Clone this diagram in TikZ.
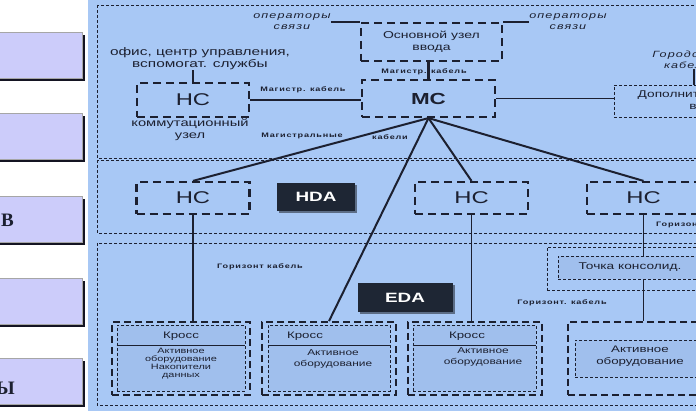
\documentclass[tikz,border=0pt]{standalone}
\usepackage{fontspec}
\setmainfont{Liberation Sans}[FakeStretch=1.4]
\newfontfamily\wirefont{Liberation Sans}[FakeStretch=1.4,LetterSpace=12]
\newfontfamily\menufont{Liberation Serif}
\usetikzlibrary{positioning,shadows}
\definecolor{nwBlue} {RGB}{168,200,245}
\definecolor{nwBlueD}{RGB}{160,191,237}
\definecolor{nwInk}  {RGB}{ 28, 32, 48}
\definecolor{nwTag}  {RGB}{ 30, 38, 52}
\definecolor{nwMenu} {RGB}{204,204,250}
\definecolor{nwMenuE}{RGB}{ 20, 20, 34}

\begin{document}
\begin{tikzpicture}[x=1pt,y=-1pt,
  every node/.style={text=nwInk,inner sep=0pt},
  zone/.style ={draw=nwInk,line width=0.7pt,dash pattern=on 3pt off 2pt},
  hub/.style  ={draw=nwInk,line width=2.2pt,dash pattern=on 8pt off 5pt,
                minimum width=113pt,minimum height=32pt,align=center,
                font=\fontsize{17}{19}\selectfont},
  rack/.style ={draw=nwInk,line width=1.8pt,dash pattern=on 7pt off 4pt,
                minimum height=73pt},
  shelf/.style={zone,fill=nwBlueD},
  tag/.style  ={fill=nwTag,text=white,minimum width=78pt,minimum height=28pt,
                font=\bfseries\fontsize{13.5}{15}\selectfont,
                drop shadow={shadow xshift=2pt,shadow yshift=-2pt,fill=black,opacity=.45}},
  note/.style ={align=center,font=\fontsize{10.5}{12.5}\selectfont},
  oper/.style ={align=center,font=\wirefont\itshape\fontsize{9}{11}\selectfont},
  wire/.style ={font=\wirefont\bfseries\fontsize{6.5}{8}\selectfont},
  gear/.style ={align=center,font=\fontsize{8.5}{11.5}\selectfont},
  menu/.style ={fill=nwMenu,draw=black!35,line width=.6pt,minimum width=122pt,
                minimum height=46pt,
                drop shadow={shadow xshift=3pt,shadow yshift=-3pt,fill=nwMenuE,opacity=1}},
  cable/.style={draw=nwInk,line width=1.3pt},
  trunk/.style={draw=nwInk,line width=2pt}
]
\useasboundingbox (0,0) rectangle (696,411);
\clip (0,0) rectangle (696,411);
\fill[white]  (0,0)  rectangle (88,411);
\fill[nwBlue] (88,0) rectangle (696,411);

\foreach \n/\y in {1/55,2/136.5,3/219,4/301.5,5/381}
  \node[menu] (m\n) at (21,\y) {};
\node[anchor=east,font=\menufont\bfseries\fontsize{19}{20}\selectfont] (m3txt) at (14,220) {В};
\node[anchor=east,font=\menufont\bfseries\fontsize{19}{20}\selectfont] (m5txt) at (15,388) {Ы};

\draw[zone] (97,5)   rectangle (720,158);
\draw[zone] (97,160) rectangle (720,233);
\draw[zone] (97,243) rectangle (720,405);

\node[oper] (opL) at (292,21.5) {операторы\\связи};
\node[oper] (opR) at (568,21.5) {операторы\\связи};
\node[hub,minimum width=141pt,minimum height=38pt,font=\fontsize{10}{12.5}\selectfont]
  (entry) at (431.5,42) {Основной узел\\ввода};
\node[wire] (w1) at (424,72) {Магистр. кабель};
\node[hub,minimum width=133pt,minimum height=37pt,font=\bfseries\fontsize{16}{18}\selectfont]
  (mc) at (428.5,98.5) {МС};
\node[note,font=\fontsize{11}{12}\selectfont] (office) at (200,59)
  {офис, центр управления,\\вспомогат. службы};
\node[hub,minimum width=112pt,minimum height=34pt] (lnc) at (193,100) {НС};
\node[note] (lncname) at (190,129.5) {коммутационный\\узел};
\node[wire] (w2) at (303,90)  {Магистр. кабель};
\node[wire] (w3) at (302,136) {Магистральные};
\node[wire] (w4) at (390,137) {кабели};
\node[oper] (city) at (687,60) {Городской\\кабель};
\node[zone,note,font=\fontsize{9.8}{12.5}\selectfont,minimum width=188pt,minimum height=32pt]
  (add) at (708,101) {Дополнительный узел\\ввода};

\node[hub] (hdaL) at (193,198)   {НС};
\node[hub] (hdaM) at (471.5,198) {НС};
\node[hub] (hdaR) at (643.5,198) {НС};
\node[tag] (hda) at (316,197) {HDA};
\node[wire,anchor=west] (w5) at (656,225) {Горизонт. кабель};

\node[zone,minimum width=178pt,minimum height=43pt] (cpo) at (636,268.5) {};
\node[shelf,note,font=\fontsize{9.8}{12}\selectfont,minimum width=144pt,minimum height=23pt]
  (cp) at (630,267.5) {Точка консолид.};
\node[wire] (w6) at (260,267) {Горизонт кабель};
\node[wire] (w7) at (562,303) {Горизонт. кабель};
\node[tag,minimum width=95pt,minimum height=29pt] (eda) at (405,297.5) {EDA};

\node[rack,minimum width=138pt] (x1o) at (181,358.5) {};
\node[rack,minimum width=134pt] (x2o) at (329,358.5) {};
\node[rack,minimum width=134pt] (x3o) at (475,358.5) {};
\node[rack,minimum width=144pt] (x4o) at (640,358.5) {};
\node[shelf,minimum width=128pt,minimum height=66pt] (x1i) at (181,358)   {};
\node[shelf,minimum width=122pt,minimum height=66pt] (x2i) at (329,358)   {};
\node[shelf,minimum width=123pt,minimum height=66pt] (x3i) at (474.5,358) {};
\node[shelf,minimum width=130pt,minimum height=37pt] (x4i) at (640,358.5) {};
\node[note,font=\fontsize{9.5}{10}\selectfont] (k1) at (181,336) {Кросс};
\node[note,font=\fontsize{9.5}{10}\selectfont] (k2) at (305,336) {Кросс};
\node[note,font=\fontsize{9.5}{10}\selectfont] (k3) at (467,336) {Кросс};
\node[gear,font=\fontsize{7.8}{8}\selectfont] (g1) at (181,364) {Активное\\оборудование\\Накопители\\данных};
\node[gear] (g2) at (333,359) {Активное\\оборудование};
\node[gear] (g3) at (483,357) {Активное\\оборудование};
\node[gear,font=\fontsize{9.5}{12}\selectfont] (g4) at (640,356) {Активное\\оборудование};
\foreach \b in {x1i,x2i,x3i}
  \draw[nwInk,line width=.8pt] (\b.west |- 0,345) -- (\b.east |- 0,345);

\draw[cable] (opL.east |- entry.north west) -- (entry.north west);
\draw[cable] (entry.north east) -- (opR.west |- entry.north east);
\draw[trunk,line width=2.5pt] (mc.north |- entry.south) -- (mc.north);
\draw[trunk,line width=2.5pt] (office.south -| lnc.north) -- (lnc.north);
\draw[cable] (lnc.east) -- (lnc.east -| mc.west);
\draw[cable] (mc.east) -- (mc.east -| add.west);
\draw[cable] ([xshift=7pt]city.south) -- ([xshift=7pt]city.south |- add.north);
\foreach \t in {hdaL,hdaM,hdaR,x2o}
  \draw[trunk] (mc.south) -- (\t.north);
\draw[cable] (hdaL.south) -- (hdaL.south |- x1o.north);
\draw[cable] (hdaM.south) -- (hdaM.south |- x3o.north);
\draw[cable] (hdaR.south) -- (hdaR.south |- cp.north);
\draw[cable] (hdaR.south |- cp.south) -- (hdaR.south |- x4o.north);
\end{tikzpicture}
\end{document}
